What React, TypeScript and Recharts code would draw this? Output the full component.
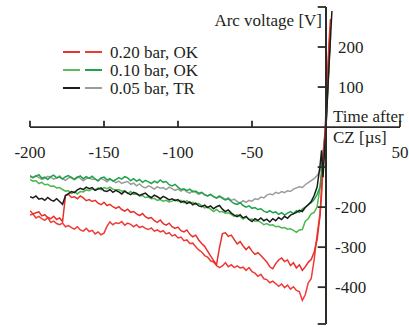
import { LineChart, Line, XAxis, YAxis, ReferenceLine, ReferenceDot, Legend } from "recharts"

const FONT = '"Liberation Serif", "Times New Roman", serif'
const INK = "#231f20"

// time grid in µs (2 µs steps up to -4, then the fast rise after current zero)
const timeMain = [
  -200, -198, -196, -194, -192, -190, -188, -186, -184, -182,
  -180, -178, -176, -174, -172, -170, -168, -166, -164, -162,
  -160, -158, -156, -154, -152, -150, -148, -146, -144, -142,
  -140, -138, -136, -134, -132, -130, -128, -126, -124, -122,
  -120, -118, -116, -114, -112, -110, -108, -106, -104, -102,
  -100, -98, -96, -94, -92, -90, -88, -86, -84, -82,
  -80, -78, -76, -74, -72, -70, -68, -66, -64, -62,
  -60, -58, -56, -54, -52, -50, -48, -46, -44, -42,
  -40, -38, -36, -34, -32, -30, -28, -26, -24, -22,
  -20, -18, -16, -14, -12, -10, -8, -6, -4,
]
const timeTail = [-3, -2, -1, 0, 1, 2, 3, 4]
const time = [...timeMain, ...timeTail]

// arc voltage [V]
const red1 = [
  -209, -217, -214, -212, -222, -219, -226, -229, -223, -231,
  -227, -236, -171, -168, -176, -174, -179, -172, -177, -184,
  -181, -186, -183, -190, -194, -188, -196, -193, -199, -203,
  -199, -206, -210, -205, -213, -211, -217, -221, -216, -224,
  -228, -226, -234, -238, -232, -241, -245, -240, -249, -253,
  -250, -259, -262, -257, -268, -274, -270, -282, -291, -298,
  -310, -322, -333, -344, -302, -266, -264, -273, -270, -281,
  -292, -286, -297, -306, -299, -310, -318, -314, -321, -329,
  -337, -349, -354, -341, -332, -327, -336, -332, -346, -339,
  -352, -344, -358, -349, -338, -331, -312, -281, -220,
  -150, -90, -30, 40, 130, 210, 270,
]
const red2 = [
  -220, -217, -227, -223, -229, -233, -226, -238, -235, -241,
  -244, -240, -249, -246, -251, -255, -249, -257, -260, -253,
  -261, -258, -267, -262, -269, -265, -248, -237, -244, -239,
  -241, -236, -245, -240, -243, -249, -244, -251, -248, -253,
  -256, -252, -260, -257, -262, -259, -267, -264, -272, -269,
  -277, -275, -284, -282, -291, -290, -299, -307, -312, -321,
  -325, -334, -337, -346, -351, -347, -339, -349, -344, -351,
  -347, -352, -350, -358, -351, -361, -365, -373, -368, -379,
  -381, -389, -385, -391, -398, -392, -401, -395, -405, -399,
  -408, -411, -433, -419, -389, -379, -331, -269, -215,
  -170, -100, -40, 20, 110, 190, 250,
]
const greenTop = [
  -121, -126, -123, -119, -128, -125, -131, -124, -120, -127,
  -125, -130, -124, -121, -127, -131, -126, -122, -129, -124,
  -128, -123, -130, -134, -127, -125, -132, -129, -135, -131,
  -126, -130, -124, -127, -134, -129, -135, -131, -138, -133,
  -137, -141, -135, -139, -132, -138, -136, -144, -147, -143,
  -150, -156, -154, -159, -155, -162, -160, -165, -163, -169,
  -172, -168, -174, -177, -172, -178, -182, -179, -186, -191,
  -193, -189, -196, -200, -197, -203, -201, -206, -204, -210,
  -213, -209, -214, -212, -218, -214, -220, -215, -211, -216,
  -209, -213, -205, -200, -194, -189, -181, -168, -150,
  -110, -70, -30, 10, 90, 165, 235,
]
const greenLow = [
  -131, -135, -134, -141, -138, -144, -143, -148, -147, -152,
  -151, -156, -160, -159, -166, -161, -167, -161, -162, -157,
  -159, -155, -157, -152, -157, -151, -154, -150, -155, -157,
  -156, -160, -159, -166, -161, -168, -167, -172, -171, -176,
  -175, -179, -178, -183, -181, -185, -183, -187, -185, -181,
  -185, -183, -189, -184, -190, -188, -193, -191, -196, -202,
  -200, -205, -211, -206, -212, -211, -215, -214, -218, -223,
  -219, -224, -230, -225, -231, -230, -235, -234, -238, -244,
  -241, -245, -244, -249, -248, -252, -251, -255, -254, -258,
  -263, -257, -256, -235, -229, -217, -213, -199, -150,
  -120, -80, -40, 0, 80, 155, 225,
]
const black = [
  -174, -177, -172, -180, -178, -183, -176, -182, -185, -179,
  -186, -193, -171, -166, -161, -164, -157, -153, -156, -150,
  -154, -151, -158, -155, -152, -159, -161, -156, -163, -158,
  -162, -167, -160, -165, -169, -163, -166, -171, -168, -165,
  -172, -176, -170, -174, -179, -173, -177, -182, -179, -184,
  -181, -188, -185, -191, -187, -194, -190, -197, -199, -195,
  -201, -197, -204, -199, -196, -205, -211, -207, -215, -220,
  -224, -219, -227, -223, -231, -236, -229, -233, -227, -234,
  -230, -237, -229, -234, -226, -231, -223, -228, -220, -217,
  -213, -208, -211, -201, -194, -186, -171, -150, -95,
  -58, -125, -60, 0, 75, 150, 220, 290,
]
const gray = [
  -124, -127, -121, -126, -131, -128, -123, -125, -130, -127,
  -122, -129, -133, -127, -125, -130, -124, -128, -134, -129,
  -126, -131, -129, -135, -128, -132, -137, -130, -134, -139,
  -135, -141, -138, -136, -143, -140, -147, -142, -149, -152,
  -147, -150, -155, -149, -153, -151, -156, -150, -154, -158,
  -155, -160, -156, -162, -165, -159, -163, -168, -164, -169,
  -172, -168, -173, -178, -174, -176, -181, -177, -183, -180,
  -186, -190, -184, -188, -183, -185, -179, -181, -175, -177,
  -170, -167, -169, -163, -166, -161, -164, -159, -161, -155,
  -152, -149, -151, -144, -139, -134, -129, -121, -110,
  -90, -62, -35, 5, 80, 160, 230,
]

const legendLabels = ["0.20 bar, OK", "0.10 bar, OK", "0.05 bar, TR"]
const legendColors = [
  ["#e8302c", "#ef3b36"],
  ["#5bbd5f", "#1ea34a"],
  ["#1c1c1c", "#9b9b9b"],
]

const xTicks = [-200, -150, -100, -50, 50]
const yTicks = [200, 100, -200, -300, -400]
const yTickMarks = [300, 200, 100, -100, -200, -300, -400, -492]

// drawn back to front
const series = [
  { name: "gray", color: "#9b9b9b", values: gray },
  { name: "greenLow", color: "#4cb84f", values: greenLow },
  { name: "greenTop", color: "#1ea34a", values: greenTop },
  { name: "red2", color: "#ef3b36", values: red2 },
  { name: "red1", color: "#e8302c", values: red1 },
  { name: "black", color: "#1c1c1c", values: black },
]

const toPoints = (vals: number[]) => vals.map((v, i) => ({ t: time[i], v }))

const textLabel = (value: string, dx: number, dy: number, anchor: "start" | "middle" | "end") => ({
  content: (props: any) => {
    const vb = props.viewBox || { x: 0, y: 0 }
    return (
      <text x={vb.x + dx} y={vb.y + dy} textAnchor={anchor} fontFamily={FONT} fontSize={17} fill={INK}>
        {value}
      </text>
    )
  },
})

function LegendBox() {
  return (
    <svg width={170} height={60}>
      {legendLabels.map((label, i) => {
        const y = 10 + i * 18
        return (
          <g key={label}>
            <line x1={3} x2={20} y1={y} y2={y} stroke={legendColors[i][0]} strokeWidth={2} />
            <line x1={25} x2={42} y1={y} y2={y} stroke={legendColors[i][1]} strokeWidth={2} />
            <text x={50} y={y + 6} fontFamily={FONT} fontSize={17} fill={INK}>
              {label}
            </text>
          </g>
        )
      })}
    </svg>
  )
}

export default function App() {
  return (
    <div style={{ position: "absolute", left: 0, top: 0, background: "#fff" }}>
      <LineChart width={409} height={329} margin={{ top: 7, right: 9, bottom: 5, left: 30 }}>
        <XAxis dataKey="t" type="number" domain={[-200, 50]} allowDataOverflow hide />
        <YAxis type="number" domain={[-492, 300]} allowDataOverflow hide />
        <Legend
          verticalAlign="middle"
          align="center"
          layout="horizontal"
          content={() => <LegendBox />}
          wrapperStyle={{ position: "absolute", left: 60, top: 42, width: 170, height: 60 }}
        />

        {series.map((s) => (
          <Line
            key={s.name}
            data={toPoints(s.values)}
            dataKey="v"
            type="linear"
            stroke={s.color}
            strokeWidth={1.5}
            dot={false}
            isAnimationActive={false}
          />
        ))}

        <ReferenceLine y={0} stroke="#2b2b28" strokeWidth={1.8} />
        <ReferenceLine x={0} stroke="#2b2b28" strokeWidth={2} />
        {xTicks.map((t) => (
          <ReferenceLine key={"xt" + t} segment={[{ x: t, y: 0 }, { x: t, y: 16 }]} stroke="#2b2b28" strokeWidth={1.8} />
        ))}
        {yTickMarks.map((v) => (
          <ReferenceLine key={"yt" + v} segment={[{ x: -5.6, y: v }, { x: 0, y: v }]} stroke="#2b2b28" strokeWidth={1.8} />
        ))}

        {xTicks.map((t) => (
          <ReferenceDot key={"xl" + t} x={t} y={0} r={0} fill="none" stroke="none" label={textLabel(String(t), 0, 31, "middle")} />
        ))}
        {yTicks.map((v) => (
          <ReferenceDot key={"yl" + v} x={0} y={v} r={0} fill="none" stroke="none" label={textLabel(String(v), v > 0 ? 12 : 9, 6, "start")} />
        ))}

        <ReferenceDot x={0} y={300} r={0} fill="none" stroke="none" label={textLabel("Arc voltage [V]", -4, 19, "end")} />
        <ReferenceDot x={0} y={0} r={0} fill="none" stroke="none" label={textLabel("Time after", 7, -5, "start")} />
        <ReferenceDot x={0} y={0} r={0} fill="none" stroke="none" label={textLabel("CZ [µs]", 7, 16, "start")} />
      </LineChart>
    </div>
  )
}
